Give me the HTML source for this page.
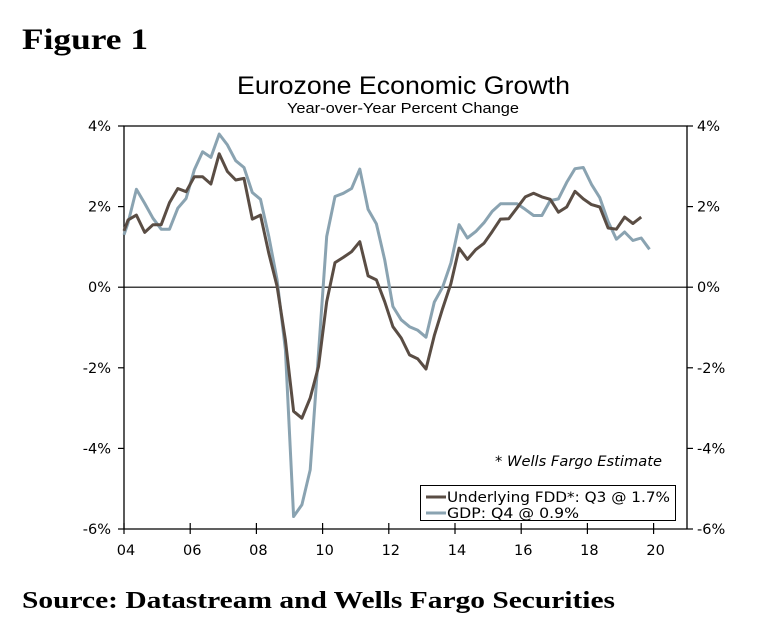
<!DOCTYPE html>
<html><head><meta charset="utf-8"><style>
body{margin:0;background:#fff;}
svg{display:block;}
</style></head><body>
<svg width="767" height="624" xmlns="http://www.w3.org/2000/svg">
<text x="22" y="49" font-family="Liberation Serif, serif" font-weight="bold" font-size="30" textLength="126" lengthAdjust="spacingAndGlyphs">Figure 1</text>
<text x="237" y="94" font-family="Liberation Sans, sans-serif" font-size="25" textLength="333" lengthAdjust="spacingAndGlyphs">Eurozone Economic Growth</text>
<text x="287" y="113" font-family="Liberation Sans, sans-serif" font-size="15" textLength="232" lengthAdjust="spacingAndGlyphs">Year-over-Year Percent Change</text>
<g id="plot"></g>
<text x="495" y="466" font-family="DejaVu Sans, sans-serif" font-style="italic" font-size="14" textLength="167" lengthAdjust="spacingAndGlyphs">* Wells Fargo Estimate</text>
<g>
<rect x="420.5" y="485.5" width="255" height="35" fill="#fff" stroke="#000" stroke-width="1"/>
<g><line x1="426" y1="497" x2="446" y2="497" stroke="#5a4d44" stroke-width="3"/>
<text x="447" y="502" font-family="DejaVu Sans, sans-serif" font-size="14.5" textLength="223" lengthAdjust="spacingAndGlyphs">Underlying FDD*: Q3 @ 1.7%</text></g>
<g><line x1="426" y1="513" x2="446" y2="513" stroke="#8aa3b1" stroke-width="3"/>
<text x="447" y="518" font-family="DejaVu Sans, sans-serif" font-size="14.5" textLength="132" lengthAdjust="spacingAndGlyphs">GDP: Q4 @ 0.9%</text></g>
</g>
<text x="22" y="608" font-family="Liberation Serif, serif" font-weight="bold" font-size="24" textLength="593" lengthAdjust="spacingAndGlyphs">Source: Datastream and Wells Fargo Securities</text>
</svg>
<script>
const startYear = 2004;
const yTicks = [4, 2, 0, -2, -4, -6];
const yTickLabels = ["4%", "2%", "0%", "-2%", "-4%", "-6%"];
const xTicks = [2004, 2006, 2008, 2010, 2012, 2014, 2016, 2018, 2020];
const xTickLabels = ["04", "06", "08", "10", "12", "14", "16", "18", "20"];
const gdp = [1.6,2.43,2.08,1.71,1.44,1.44,1.96,2.2,2.91,3.36,3.22,3.8,3.53,3.14,2.97,2.35,2.18,1.26,0.18,-1.55,-5.69,-5.4,-4.53,-1.64,1.26,2.25,2.33,2.45,2.93,1.93,1.57,0.68,-0.48,-0.81,-0.98,-1.07,-1.24,-0.37,0.0,0.6,1.55,1.22,1.38,1.6,1.88,2.07,2.07,2.07,1.93,1.78,1.78,2.15,2.19,2.6,2.94,2.97,2.55,2.22,1.63,1.19,1.37,1.16,1.22,0.94];
const fdd = [1.67,1.79,1.36,1.55,1.55,2.1,2.45,2.37,2.74,2.74,2.56,3.31,2.87,2.66,2.7,1.69,1.79,0.84,0.02,-1.31,-3.08,-3.25,-2.75,-1.97,-0.36,0.61,0.74,0.88,1.13,0.28,0.18,-0.36,-0.98,-1.26,-1.68,-1.78,-2.03,-1.2,-0.53,0.09,0.97,0.69,0.93,1.09,1.38,1.69,1.7,1.97,2.24,2.33,2.24,2.18,1.86,1.99,2.38,2.19,2.05,1.99,1.47,1.44,1.74,1.58,1.74];
const gdpStart = 1.3;
const fddStart = 1.4;

const L=124,R=687,T=126,B=529;
const xs = yr => L + (yr - 2004) * 33.1;
const ys = v => T + (4 - v) / 10 * (B - T);
const qx = i => xs(startYear + i / 4 + 0.125);
const NS="http://www.w3.org/2000/svg";
const plot=document.getElementById('plot');
function mk(tag, attrs){const e=document.createElementNS(NS,tag);for(const k in attrs)e.setAttribute(k,attrs[k]);plot.appendChild(e);return e;}

let f=mk('path',{d:`M${L},${B} V${T} H${R} V${B}`,fill:'none',stroke:'#000','stroke-width':1.3});


let xa=mk('line',{x1:L,x2:R,y1:B,y2:B,stroke:'#000','stroke-width':1.3});


let z=mk('line',{x1:L,x2:R,y1:ys(0),y2:ys(0),stroke:'#000','stroke-width':1.2});



yTicks.forEach((v,i)=>{
  const y=ys(v);
  mk('line',{x1:L-6,x2:L,y1:y,y2:y,stroke:'#000','stroke-width':1.2});
  mk('line',{x1:R,x2:R+6,y1:y,y2:y,stroke:'#000','stroke-width':1.2});
  const t1=mk('text',{x:L-13,y:y+5,'text-anchor':'end','font-family':'DejaVu Sans, sans-serif','font-size':14.5});
  t1.textContent=yTickLabels[i];
  
  
  const t2=mk('text',{x:R+10,y:y+5,'font-family':'DejaVu Sans, sans-serif','font-size':14.5});
  t2.textContent=yTickLabels[i];
  
  
});
xTicks.forEach((yr,i)=>{
  const x=xs(yr);
  mk('line',{x1:x,x2:x,y1:B-6,y2:B+5,stroke:'#000','stroke-width':1.2});
  const t=mk('text',{x:x+2,y:B+26,'text-anchor':'middle','font-family':'DejaVu Sans, sans-serif','font-size':14.5});
  t.textContent=xTickLabels[i];
  
  
});
function line(data,start,color,name){
  const d='M'+L+','+ys(start).toFixed(1)+' '+data.map((v,i)=>'L'+qx(i).toFixed(1)+','+ys(v).toFixed(1)).join(' ');
  const p=mk('path',{d:d,fill:'none',stroke:color,'stroke-width':3,'stroke-linejoin':'round'});
  
  
}
line(gdp,gdpStart,'#8aa3b1','gdp-line');
line(fdd,fddStart,'#5a4d44','fdd-line');
</script>
</body></html>
